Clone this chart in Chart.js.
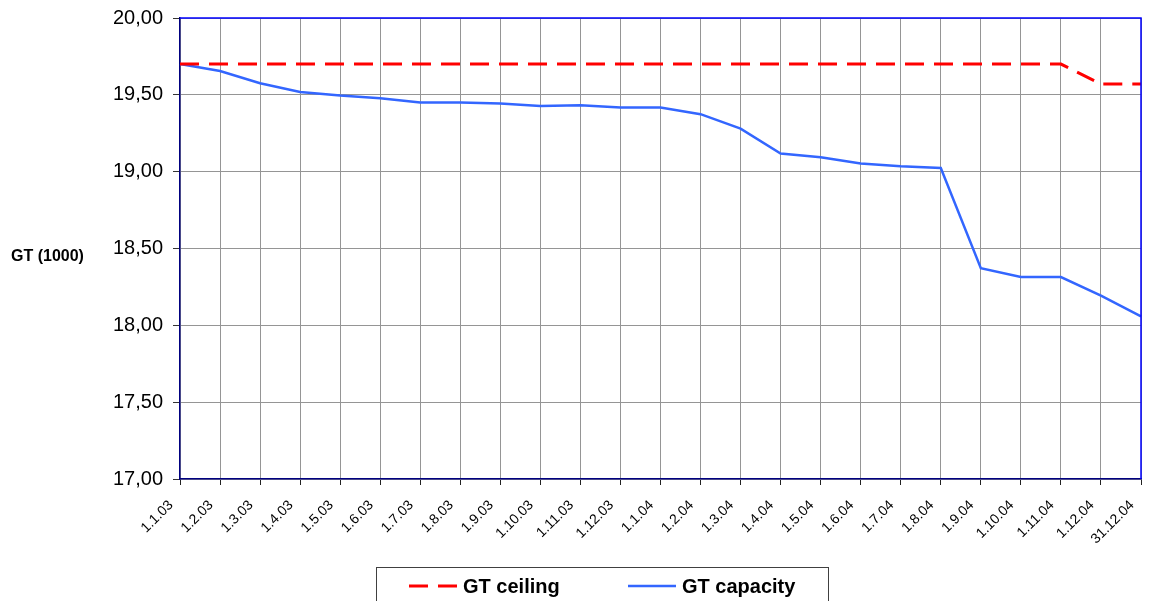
<!DOCTYPE html>
<html>
<head>
<meta charset="utf-8">
<title>GT ceiling and GT capacity</title>
<script src="https://cdn.jsdelivr.net/npm/chart.js@4/dist/chart.umd.min.js"></script>
<style>
  html, body { margin: 0; padding: 0; background: #fff; }
  #wrap { width: 1150px; height: 601px; position: relative; }
</style>
</head>
<body>
<div id="wrap"><canvas id="gtChart" width="1150" height="601"></canvas></div>
<script>
// month labels, 2003-2004
const dates = [
    '1.1.03', '1.2.03', '1.3.03', '1.4.03', '1.5.03', '1.6.03', '1.7.03', '1.8.03', '1.9.03', '1.10.03', '1.11.03', '1.12.03',
    '1.1.04', '1.2.04', '1.3.04', '1.4.04', '1.5.04', '1.6.04', '1.7.04', '1.8.04', '1.9.04', '1.10.04', '1.11.04', '1.12.04', '31.12.04'
];

// GT in thousands
const gtCeiling = [
    19.70, 19.70, 19.70, 19.70, 19.70, 19.70, 19.70, 19.70, 19.70, 19.70, 19.70, 19.70,
    19.70, 19.70, 19.70, 19.70, 19.70, 19.70, 19.70, 19.70, 19.70, 19.70, 19.70, 19.57, 19.57
];
const gtCapacity = [
    19.70, 19.655, 19.575, 19.518, 19.495, 19.478, 19.45, 19.45, 19.443, 19.427, 19.432, 19.417,
    19.417, 19.374, 19.28, 19.118, 19.094, 19.053, 19.035, 19.024, 18.372, 18.314, 18.314, 18.194, 18.059
];

const yTicks = { min: 17, max: 20, step: 0.5 };

const FONT = 'Arial, "Liberation Sans", sans-serif';

// keep the plot area where it belongs regardless of label overhang
function noPadding(s) {
    s.paddingTop = 0; s.paddingBottom = 0; s.paddingLeft = 0; s.paddingRight = 0;
}

// y title, blue top/right frame and boxed legend
const extras = {
    id: 'extras',
    afterDraw(chart) {
        const ctx = chart.ctx;
        const a = chart.chartArea;
        ctx.save();

        ctx.strokeStyle = '#0000ff';
        ctx.lineWidth = 1.5;
        ctx.beginPath();
        ctx.moveTo(a.left, a.top);
        ctx.lineTo(a.right, a.top);
        ctx.lineTo(a.right, a.bottom);
        ctx.stroke();

        ctx.fillStyle = '#000';
        ctx.font = 'bold 16px ' + FONT;
        ctx.textBaseline = 'alphabetic';
        ctx.textAlign = 'left';
        ctx.fillText('GT (1000)', 11, 261);

        // legend
        ctx.strokeStyle = '#404040';
        ctx.lineWidth = 1;
        ctx.strokeRect(376.5, 567.5, 452, 50);
        const items = [
            { ds: chart.data.datasets[0], x: 409, tx: 463 },
            { ds: chart.data.datasets[1], x: 628, tx: 682 }
        ];
        ctx.font = 'bold 20px ' + FONT;
        items.forEach(it => {
            ctx.strokeStyle = it.ds.borderColor;
            ctx.lineWidth = it.ds.borderWidth;
            ctx.setLineDash(it.ds.borderDash || []);
            ctx.beginPath();
            ctx.moveTo(it.x, 586);
            ctx.lineTo(it.x + 48, 586);
            ctx.stroke();
            ctx.setLineDash([]);
            ctx.fillText(it.ds.label, it.tx, 593);
        });
        ctx.restore();
    }
};

new Chart(document.getElementById('gtChart').getContext('2d'), {
    type: 'line',
    data: {
        labels: dates,
        datasets: [
            { label: 'GT ceiling', data: gtCeiling, borderColor: '#ff0000', borderWidth: 3, borderDash: [19, 10], pointRadius: 0, tension: 0, fill: false },
            { label: 'GT capacity', data: gtCapacity, borderColor: '#3366ff', borderWidth: 2.5, pointRadius: 0, tension: 0, fill: false }
        ]
    },
    options: {
        responsive: false,
        animation: false,
        layout: { padding: { top: 18, right: 9, left: 0, bottom: 0 } },
        plugins: { legend: { display: false }, tooltip: { enabled: false } },
        scales: {
            x: {
                offset: false,
                afterFit: s => { s.height = 122; noPadding(s); },
                grid: { color: '#959595', lineWidth: 1, tickLength: 6, tickColor: '#222', offset: false },
                border: { color: '#000080', width: 1.5 },
                ticks: {
                    autoSkip: false, maxRotation: 45, minRotation: 45, padding: 12, labelOffset: -9,
                    color: '#000', font: { family: FONT, size: 14 }
                }
            },
            y: {
                min: yTicks.min,
                max: yTicks.max,
                afterFit: s => { s.width = 180; noPadding(s); },
                grid: { color: '#959595', lineWidth: 1, tickLength: 7, tickColor: '#333' },
                border: { color: '#000080', width: 1.5 },
                ticks: {
                    stepSize: yTicks.step, padding: 10, color: '#000',
                    font: { family: FONT, size: 20 },
                    callback: v => v.toFixed(2).replace('.', ',')
                }
            }
        }
    },
    plugins: [extras]
});
</script>
</body>
</html>
